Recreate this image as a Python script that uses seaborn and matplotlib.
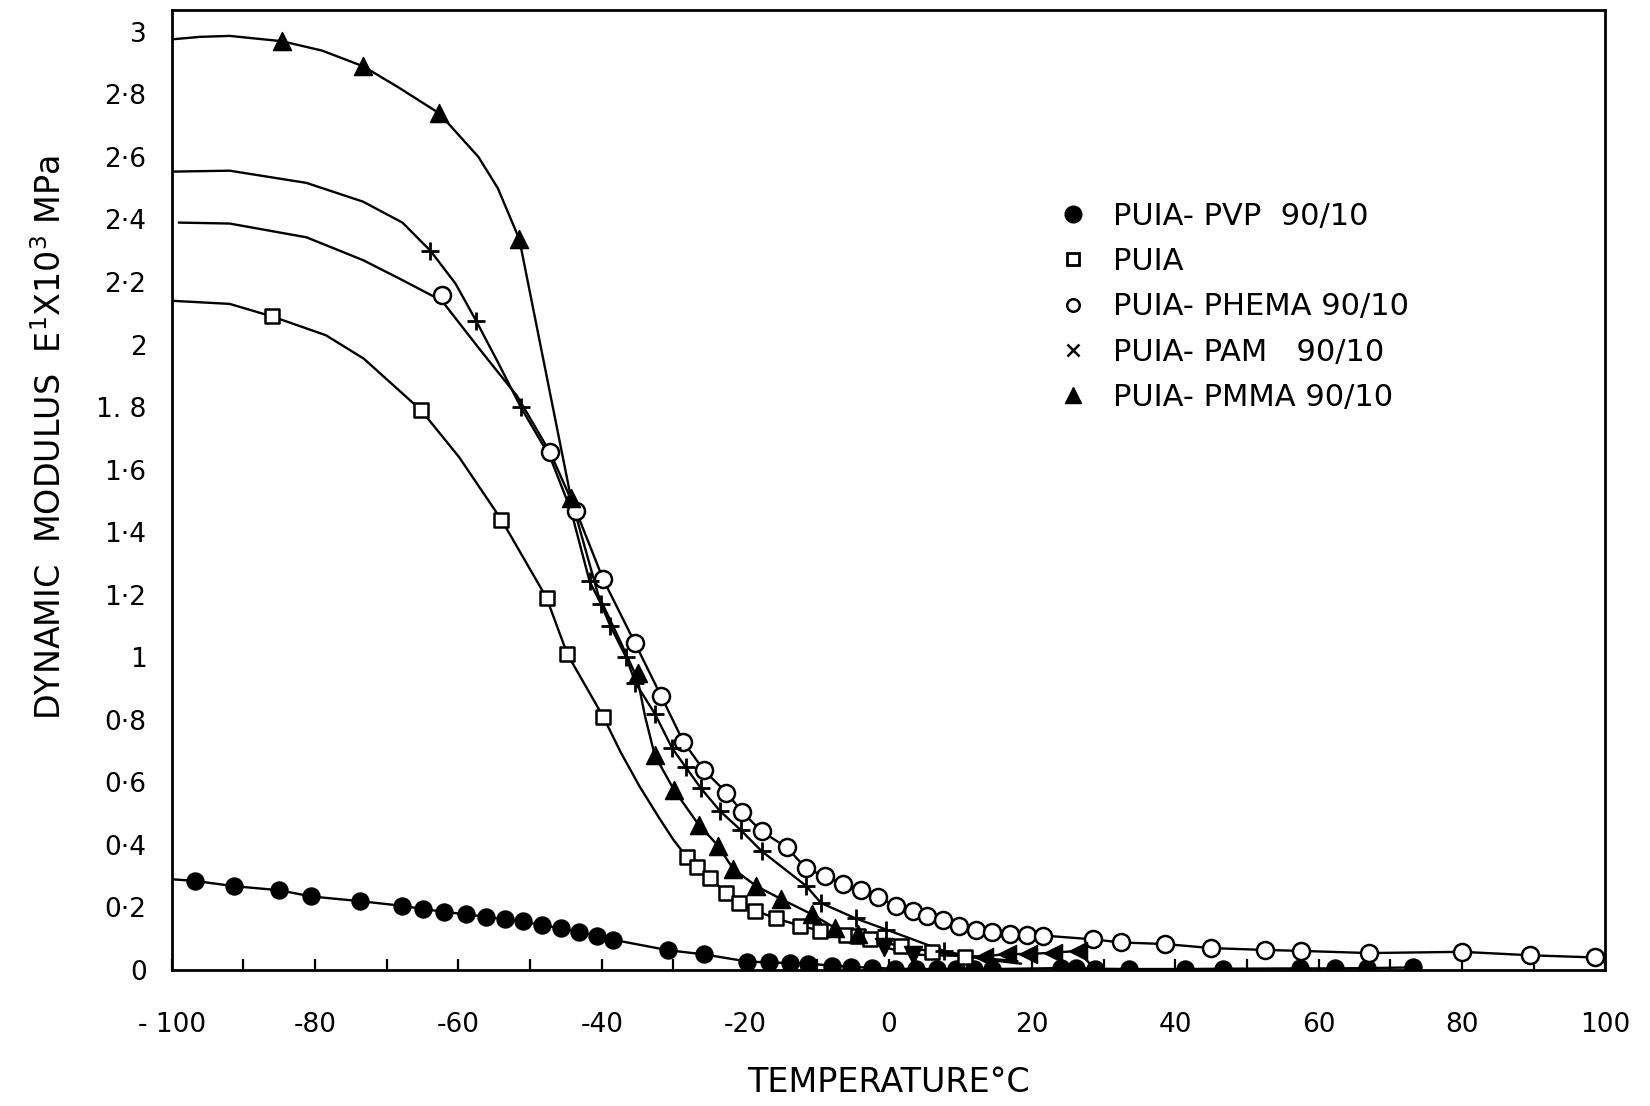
import matplotlib
matplotlib.use("Agg")
import matplotlib.pyplot as plt
import seaborn as sns
from matplotlib.lines import Line2D

# ---------------- data ----------------
x_ticks = [-100, -80, -60, -40, -20, 0, 20, 40, 60, 80, 100]
x_tick_labels = ["- 100", "-80", "-60", "-40", "-20", "0", "20", "40", "60", "80", "100"]
y_ticks = [0, 0.2, 0.4, 0.6, 0.8, 1.0, 1.2, 1.4, 1.6, 1.8, 2.0, 2.2, 2.4, 2.6, 2.8, 3.0]
y_tick_labels = ["0", "0·2", "0·4", "0·6", "0·8", "1", "1·2", "1·4", "1·6", "1. 8",
                 "2", "2·2", "2·4", "2·6", "2·8", "3"]

series_names = ["PUIA- PVP  90/10", "PUIA", "PUIA- PHEMA 90/10",
                "PUIA- PAM   90/10", "PUIA- PMMA 90/10"]

# PUIA-PVP 90/10 (filled circles)
pvp_t = [-96.8, -91.3, -85.0, -80.5, -73.7, -67.8, -64.9, -62.0, -59.0, -56.1, -53.5,
         -51.0, -48.3, -45.7, -43.2, -40.7, -38.5, -30.7, -25.8, -19.7, -16.7, -13.8,
         -11.2, -7.9, -5.3, -2.3, 0.9, 3.8, 6.8, 9.4, 11.9, 14.5, 24.1, 26.1, 28.8,
         33.5, 41.3, 46.7, 57.4, 62.3, 66.7, 73.1]
pvp_e = [0.285, 0.268, 0.255, 0.235, 0.220, 0.205, 0.195, 0.186, 0.178, 0.170, 0.162,
         0.155, 0.143, 0.133, 0.121, 0.110, 0.097, 0.063, 0.050, 0.027, 0.024, 0.022,
         0.020, 0.014, 0.010, 0.007, 0.004, 0.003, 0.003, 0.003, 0.003, 0.003, 0.006,
         0.005, 0.004, 0.003, 0.003, 0.004, 0.005, 0.005, 0.006, 0.008]
pvp_curve_t = [-100] + pvp_t
pvp_curve_e = [0.29] + pvp_e

# PUIA (open squares)
puia_t = [-86.0, -65.2, -54.0, -47.7, -44.8, -39.8, -28.1, -26.7, -24.9, -22.6, -20.9,
          -18.6, -15.7, -12.4, -9.5, -6.0, -4.3, -2.6, 1.7, 6.1, 10.6]
puia_e = [2.09, 1.79, 1.44, 1.19, 1.01, 0.81, 0.36, 0.33, 0.295, 0.245, 0.215,
          0.19, 0.165, 0.142, 0.125, 0.113, 0.11, 0.098, 0.076, 0.059, 0.043]
puia_curve_t = [-100, -91.9, -86.0, -78.5, -73.2, -65.2, -59.9, -54.0, -47.7,
                -44.8, -39.8, -37.4, -34.75, -32.1, -30.0, -28.1, -26.7, -24.9, -22.6,
                -20.9, -18.6, -15.7, -12.4, -9.5, -6.0, -4.3, -2.6, 1.7, 6.1, 10.6, 18.0]
puia_curve_e = [2.14, 2.13, 2.09, 2.03, 1.955, 1.79, 1.64, 1.44, 1.19,
                1.01, 0.81, 0.698, 0.588, 0.49, 0.416, 0.36, 0.33, 0.295, 0.245,
                0.215, 0.19, 0.165, 0.142, 0.125, 0.113, 0.11, 0.098, 0.076, 0.059,
                0.043, 0.028]

# PUIA-PHEMA 90/10 (open circles)
phema_t = [-62.3, -47.2, -43.6, -39.8, -35.4, -31.7, -28.6, -25.8, -22.6, -20.4, -17.7,
           -14.2, -11.5, -8.9, -6.4, -3.9, -1.4, 1.0, 3.4, 5.3, 7.6, 9.8, 12.2, 14.5,
           16.9, 19.3, 21.6, 28.5, 32.4, 38.5, 45.0, 52.5, 57.5, 67.0, 80.0, 89.5, 98.5]
phema_e = [2.16, 1.655, 1.469, 1.249, 1.047, 0.875, 0.729, 0.640, 0.567, 0.505, 0.443,
           0.392, 0.325, 0.300, 0.275, 0.255, 0.233, 0.203, 0.190, 0.171, 0.159, 0.141,
           0.129, 0.122, 0.116, 0.112, 0.110, 0.098, 0.088, 0.083, 0.070, 0.064, 0.061,
           0.054, 0.058, 0.047, 0.040]
phema_curve_t = ([-99.0, -91.9, -81.2, -73.3, -67.8, -62.3, -57.2, -51.8]
                 + phema_t[1:] + [100])
phema_curve_e = ([2.39, 2.387, 2.343, 2.27, 2.206, 2.14, 1.99, 1.835]
                 + phema_e[1:] + [0.039])

# PUIA-PAM 90/10 (crosses)
pam_t = [-63.9, -57.5, -51.3, -41.7, -40.1, -38.8, -36.6, -35.3, -32.6, -30.2, -28.3,
         -26.2, -23.5, -20.6, -17.7, -11.5, -9.4, -4.6, -0.3, 7.7]
pam_e = [2.30, 2.075, 1.80, 1.243, 1.17, 1.10, 1.00, 0.918, 0.82, 0.71, 0.649,
         0.582, 0.508, 0.447, 0.380, 0.269, 0.214, 0.165, 0.129, 0.061]
pam_curve_t = ([-100, -91.9, -81.2, -73.3, -67.8, -63.9, -60.4, -57.5, -54.5, -51.3,
                -47.2, -44.3] + pam_t[3:] + [13.0, 18.5])
pam_curve_e = ([2.553, 2.556, 2.517, 2.457, 2.39, 2.30, 2.195, 2.075, 1.944, 1.80,
                1.64, 1.47] + pam_e[3:] + [0.035, 0.02])

# PUIA-PMMA 90/10 (filled triangles)
pmma_t = [-84.6, -73.3, -62.7, -51.5, -44.3, -35.0, -32.6, -29.9, -26.5, -23.8, -21.7,
          -18.5, -15.0, -10.7, -7.5, -4.3, -0.6, 3.4, 13.3, 16.5, 19.4, 22.9, 26.4]
pmma_e = [2.97, 2.89, 2.74, 2.337, 1.51, 0.949, 0.686, 0.575, 0.465, 0.398, 0.324,
          0.269, 0.227, 0.178, 0.135, 0.116, 0.073, 0.049, 0.043, 0.051, 0.051, 0.055, 0.061]
pmma_curve_t = ([-100, -96.0, -91.9, -84.6, -79.0, -73.3, -68.4, -62.7, -57.2, -54.5,
                 -51.5, -44.3, -40.5, -37.4, -35.0, -33.95] + pmma_t[6:] + [28.5])
pmma_curve_e = ([2.976, 2.984, 2.987, 2.97, 2.94, 2.89, 2.823, 2.74, 2.60, 2.50,
                 2.337, 1.51, 1.20, 1.05, 0.93, 0.81] + pmma_e[6:] + [0.01])

# ---------------- figure ----------------
sns.set_theme(style="white")
plt.rcParams['font.family'] = ['DejaVu Sans']
plt.rcParams['mathtext.fontset'] = 'dejavusans'

fig = plt.figure(figsize=(16.5, 11.06), dpi=100)
ax = fig.add_axes([0.104, 0.123, 0.869, 0.868])


def curve(t, e):
    sns.lineplot(x=t, y=e, sort=False, estimator=None, color="black",
                 linewidth=1.7, ax=ax, zorder=2)


for t, e in [(pvp_curve_t, pvp_curve_e), (puia_curve_t, puia_curve_e),
             (phema_curve_t, phema_curve_e), (pam_curve_t, pam_curve_e),
             (pmma_curve_t, pmma_curve_e)]:
    curve(t, e)

sns.scatterplot(x=pvp_t, y=pvp_e, marker="o", s=150, color="black",
                edgecolor="black", linewidth=1, ax=ax, zorder=4)
sns.scatterplot(x=puia_t, y=puia_e, marker="s", s=95, facecolor="white",
                edgecolor="black", linewidth=1.8, ax=ax, zorder=4)
sns.scatterplot(x=phema_t, y=phema_e, marker="o", s=150, facecolor="white",
                edgecolor="black", linewidth=1.8, ax=ax, zorder=4)
sns.scatterplot(x=pam_t, y=pam_e, marker="+", s=170, color="black",
                linewidth=2.0, ax=ax, zorder=4)

# triangles: orientation follows the hand-drawn reference
up = [(t, e) for t, e in zip(pmma_t, pmma_e) if t < -2]
down = [(t, e) for t, e in zip(pmma_t, pmma_e) if -2 <= t < 10]
left = [(t, e) for t, e in zip(pmma_t, pmma_e) if t >= 10]
for pts, mk in [(up, "^"), (down, "v"), (left, "<")]:
    sns.scatterplot(x=[p[0] for p in pts], y=[p[1] for p in pts], marker=mk, s=170,
                    color="black", edgecolor="black", linewidth=1, ax=ax, zorder=5)

ax.set_xlim(-100, 100)
ax.set_ylim(0, 3.07)
ax.set_xticks(x_ticks)
ax.set_xticklabels(x_tick_labels)
ax.set_xticks(list(range(-90, 100, 20)), minor=True)
ax.set_yticks(y_ticks)
ax.set_yticklabels(y_tick_labels)
ax.tick_params(axis="x", which="both", direction="in", length=8, width=1.6,
               pad=30, labelsize=19, colors="black", top=False, bottom=True)
ax.tick_params(axis="y", which="both", length=0, pad=18, labelsize=19, colors="black")
for sp in ax.spines.values():
    sp.set_visible(True)
    sp.set_color("black")
    sp.set_linewidth(2)

ax.set_xlabel("TEMPERATURE°C", fontsize=24, color="black")
ax.xaxis.set_label_coords(0.5, -0.1)
ax.set_ylabel(r"DYNAMIC  MODULUS  E$^{1}$X10$^{3}$ MPa", fontsize=24, color="black")
ax.yaxis.set_label_coords(-0.072, 0.555)

handles = [
    Line2D([], [], marker="o", ls="none", color="black", markersize=12),
    Line2D([], [], marker="s", ls="none", mfc="white", mec="black", mew=2, markersize=8),
    Line2D([], [], marker="o", ls="none", mfc="white", mec="black", mew=1.8, markersize=9),
    Line2D([], [], marker="x", ls="none", color="black", mew=1.8, markersize=8),
    Line2D([], [], marker="^", ls="none", color="black", markersize=12),
]
leg = ax.legend(handles, series_names, loc="upper left", bbox_to_anchor=(0.616, 0.80),
                frameon=False, fontsize=22, handletextpad=0.69, labelspacing=0.53,
                handlelength=1.2, borderpad=0, borderaxespad=0)
for txt in leg.get_texts():
    txt.set_color("black")

ax.grid(False)
fig.savefig("out.png", dpi=100, facecolor="white")
